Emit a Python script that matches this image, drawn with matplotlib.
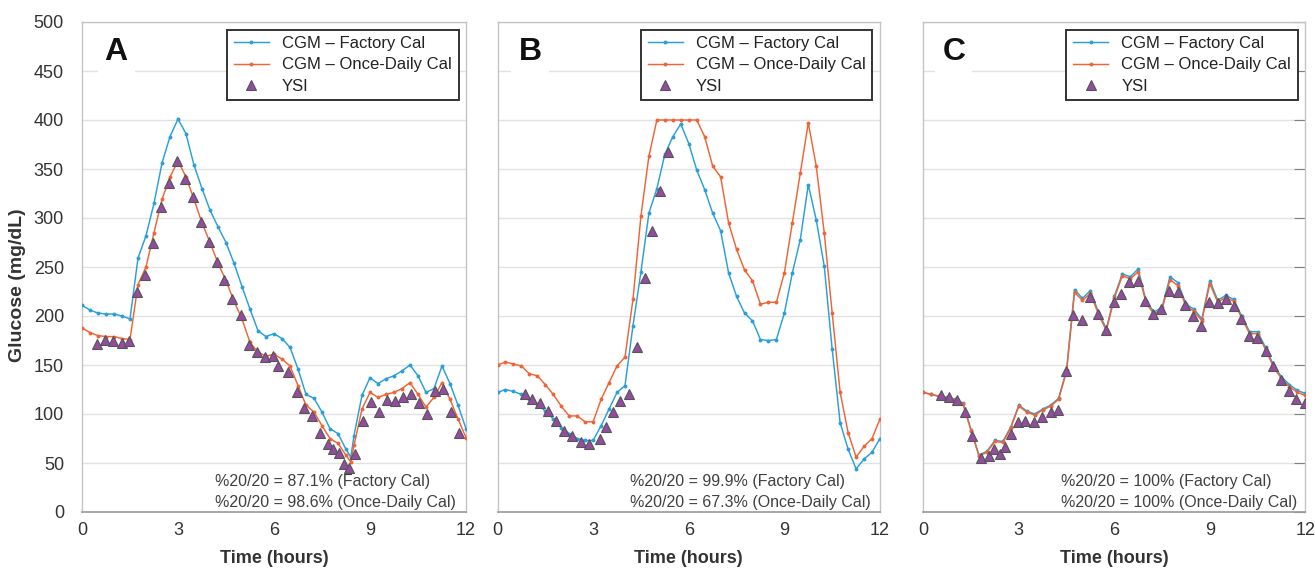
import matplotlib
matplotlib.use("Agg")
import matplotlib.pyplot as plt
from matplotlib.lines import Line2D

plt.rcParams['font.family'] = ['Liberation Sans', 'DejaVu Sans']

# ---------------- data ----------------
t_grid = [0, 0.25, 0.5, 0.75, 1, 1.25, 1.5, 1.75, 2, 2.25, 2.5, 2.75, 3, 3.25, 3.5, 3.75,
          4, 4.25, 4.5, 4.75, 5, 5.25, 5.5, 5.75, 6, 6.25, 6.5, 6.75, 7, 7.25, 7.5, 7.75,
          8, 8.25, 8.5, 8.75, 9, 9.25, 9.5, 9.75, 10, 10.25, 10.5, 10.75, 11, 11.25, 11.5,
          11.75, 12]

# Panel A
tA = [0, 0.25, 0.5, 0.75, 1, 1.25, 1.5, 1.75, 2, 2.25, 2.5, 2.75, 3, 3.25, 3.5, 3.75,
      4, 4.25, 4.5, 4.75, 5, 5.25, 5.5, 5.75, 6, 6.25, 6.5, 6.75, 7, 7.25, 7.5, 7.75,
      8, 8.25, 8.4, 8.5, 8.75, 9, 9.25, 9.5, 9.75, 10, 10.25, 10.5, 10.75, 11, 11.25,
      11.5, 11.75, 12]
factoryA = [211, 206, 203, 202, 202, 200, 197, 259, 282, 315, 356, 383, 401, 386, 354, 330,
            308, 291, 275, 254, 230, 207, 185, 179, 182, 177, 168, 146, 120, 116, 102, 85,
            80, 64, 56, 78, 119, 137, 131, 136, 139, 144, 150, 139, 122, 126, 149, 131, 109, 85]
dailyA = [188, 183, 180, 179, 179, 177, 176, 232, 250, 285, 319, 342, 358, 342, 319, 295,
          275, 254, 236, 215, 197, 173, 163, 159, 161, 156, 149, 129, 109, 102, 88, 75,
          70, 58, 51, 68, 105, 122, 117, 120, 122, 126, 132, 120, 107, 117, 132, 115, 95, 76]
ysi_tA = [0.46, 0.72, 0.98, 1.24, 1.48, 1.71, 1.96, 2.22, 2.46, 2.71, 2.96, 3.21, 3.46, 3.71,
          3.96, 4.21, 4.44, 4.69, 4.96, 5.21, 5.46, 5.71, 5.98, 6.14, 6.45, 6.71, 6.95, 7.2,
          7.44, 7.68, 7.85, 8.03, 8.19, 8.34, 8.53, 8.79, 9.03, 9.28, 9.52, 9.78, 10.02,
          10.27, 10.53, 10.77, 11.03, 11.27, 11.53, 11.78]
ysiA = [171, 176, 175, 172, 175, 225, 242, 275, 311, 336, 358, 340, 321, 296, 276, 255,
        237, 217, 201, 170, 163, 158, 159, 149, 143, 122, 106, 98, 81, 69, 64, 60, 49, 45,
        59, 93, 112, 102, 114, 113, 117, 120, 111, 100, 123, 126, 102, 81]

# Panel B
factoryB = [122, 125, 123, 120, 115, 110, 103, 95, 86, 80, 75, 73, 73, 88, 105, 122, 129,
            190, 245, 305, 330, 365, 383, 396, 376, 349, 329, 305, 287, 244, 220, 203, 195,
            176, 175, 176, 203, 244, 278, 334, 298, 251, 166, 91, 64, 44, 54, 61, 75]
dailyB = [150, 153, 151, 149, 141, 139, 130, 120, 108, 98, 98, 92, 92, 115, 132, 149, 158,
          217, 302, 363, 400, 400, 400, 400, 400, 400, 383, 353, 342, 295, 268, 247, 236,
          212, 214, 214, 244, 295, 346, 397, 353, 285, 203, 122, 81, 56, 67, 75, 95]
ysi_tB = [0.85, 1.09, 1.34, 1.59, 1.85, 2.09, 2.35, 2.62, 2.88, 3.2, 3.4, 3.63, 3.85, 4.12,
          4.38, 4.63, 4.86, 5.11, 5.36]
ysiB = [120, 115, 111, 103, 93, 83, 78, 71, 69, 75, 87, 102, 113, 120, 168, 239, 287, 328, 367]

# Panel C
factoryC = [122, 120, 118, 117, 115, 111, 84, 58, 62, 73, 72, 87, 109, 103, 100, 105, 109,
            116, 145, 227, 218, 226, 204, 187, 220, 243, 240, 248, 215, 204, 209, 240, 234,
            212, 207, 197, 236, 216, 221, 217, 200, 184, 184, 168, 150, 138, 130, 124, 121]
dailyC = [122, 120, 118, 116, 114, 110, 83, 57, 61, 72, 71, 86, 108, 102, 99, 104, 108,
          115, 143, 224, 216, 223, 202, 185, 218, 241, 238, 245, 213, 202, 207, 237, 231,
          210, 205, 195, 233, 214, 219, 215, 198, 182, 182, 166, 148, 136, 128, 122, 119]
ysi_tC = [0.55, 0.8, 1.06, 1.3, 1.54, 1.8, 2.05, 2.22, 2.4, 2.58, 2.75, 2.96, 3.21, 3.47,
          3.73, 4.0, 4.23, 4.48, 4.71, 4.97, 5.23, 5.49, 5.73, 5.98, 6.22, 6.47, 6.73, 6.97,
          7.23, 7.47, 7.73, 7.99, 8.23, 8.47, 8.73, 8.98, 9.25, 9.51, 9.75, 9.99, 10.24,
          10.49, 10.75, 10.99, 11.25, 11.48, 11.72, 11.98]
ysiC = [119, 117, 114, 102, 78, 55, 57, 64, 59, 66, 80, 92, 93, 92, 97, 102, 104, 144, 201,
        196, 219, 202, 186, 214, 222, 235, 236, 215, 202, 207, 226, 224, 211, 200, 190, 214,
        213, 217, 210, 197, 180, 178, 164, 149, 135, 123, 115, 111]

panel_letters = ['A', 'B', 'C']
factory_pct = ['87.1%', '99.9%', '100%']
daily_pct = ['98.6%', '67.3%', '100%']
x_ticks = [0, 3, 6, 9, 12]
y_ticks = [0, 50, 100, 150, 200, 250, 300, 350, 400, 450, 500]
series_names = ['CGM \u2013 Factory Cal', 'CGM \u2013 Once-Daily Cal', 'YSI']

panels = [
    dict(t=tA, f=factoryA, d=dailyA, yt=ysi_tA, y=ysiA),
    dict(t=t_grid, f=factoryB, d=dailyB, yt=ysi_tB, y=ysiB),
    dict(t=t_grid, f=factoryC, d=dailyC, yt=ysi_tC, y=ysiC),
]

# ---------------- style ----------------
BLUE = '#2a9fd8'
ORANGE = '#ef6436'
PURPLE = '#934ca0'
TRI_EDGE = '#555555'
GRID = '#e2e2e2'
TXT = '#333333'

W, H = 1315, 569
fig = plt.figure(figsize=(W / 100, H / 100), dpi=100)

lefts = [82, 497.5, 923.3]
widths = [384, 382.5, 382]
top_px, bot_px = 22, 512
letter_x = [0.089, 0.085, 0.08]
ann_x = [0.346, 0.346, 0.36]

for i, p in enumerate(panels):
    ax = fig.add_axes([lefts[i] / W, 1 - bot_px / H, widths[i] / W, (bot_px - top_px) / H])
    ax.set_xlim(0, 12)
    ax.set_ylim(0, 500)
    ax.set_xticks(x_ticks)
    ax.set_yticks(y_ticks)
    ax.grid(axis='y', color=GRID, linewidth=1.0)
    ax.set_axisbelow(True)
    for s in ['left', 'top', 'right']:
        ax.spines[s].set_color('#c4c4c4')
        ax.spines[s].set_linewidth(1.0)
    ax.spines['bottom'].set_color('#9a9a9a')
    ax.spines['bottom'].set_linewidth(1.2)
    ax.tick_params(axis='x', length=0, pad=7, labelsize=13, labelcolor=TXT)
    if i == 0:
        ax.tick_params(axis='y', length=0, pad=13, labelsize=13, labelcolor=TXT)
    elif i == 1:
        ax.tick_params(axis='y', length=0, labelleft=False)
    else:
        ax.tick_params(axis='y', left=False, right=True, direction='in', length=8,
                       color='#808080', labelleft=False, labelright=False)

    ax.plot(p['t'], p['f'], color=BLUE, lw=1.05, marker='o', ms=1.8, zorder=3)
    ax.plot(p['t'], p['d'], color=ORANGE, lw=1.05, marker='o', ms=1.8, zorder=3)
    ax.plot(p['yt'], p['y'], linestyle='none', marker='^', ms=7.5, mfc=PURPLE,
            mec=TRI_EDGE, mew=0.8, zorder=4)

    ax.text(letter_x[i], 0.939, panel_letters[i], transform=ax.transAxes, fontsize=23,
            fontweight='bold', ha='center', va='center', color='#111111', zorder=5,
            bbox=dict(facecolor='white', edgecolor='none', pad=5))

    handles = [Line2D([], [], color=BLUE, lw=1.05, marker='o', ms=1.8),
               Line2D([], [], color=ORANGE, lw=1.05, marker='o', ms=1.8),
               Line2D([], [], linestyle='none', marker='^', ms=7, mfc=PURPLE,
                      mec=TRI_EDGE, mew=0.8)]
    leg = ax.legend(handles, series_names, loc='upper right', fontsize=12,
                    frameon=True, fancybox=False, framealpha=1, edgecolor='#333333',
                    borderaxespad=0.45, borderpad=0.4, labelspacing=0.38,
                    handlelength=2.1, handletextpad=0.8)
    leg.get_frame().set_linewidth(1.4)
    leg.set_zorder(6)
    for txt in leg.get_texts():
        txt.set_color('#222222')

    ax.text(ann_x[i], 0.062, '%20/20 = ' + factory_pct[i] + ' (Factory Cal)',
            transform=ax.transAxes, fontsize=11.5, color='#404040', ha='left', va='center')
    ax.text(ann_x[i], 0.02, '%20/20 = ' + daily_pct[i] + ' (Once-Daily Cal)',
            transform=ax.transAxes, fontsize=11.5, color='#404040', ha='left', va='center')

    ax.set_xlabel('Time (hours)', fontsize=13, fontweight='bold', color=TXT)
    ax.xaxis.set_label_coords(0.5, -0.077)
    ax.xaxis.label.set_va('top')

fig.text(18 / W, 1 - 285 / H, 'Glucose (mg/dL)', rotation=90, fontsize=14,
         fontweight='bold', color=TXT, ha='center', va='center')

fig.savefig('out.png', dpi=100)
